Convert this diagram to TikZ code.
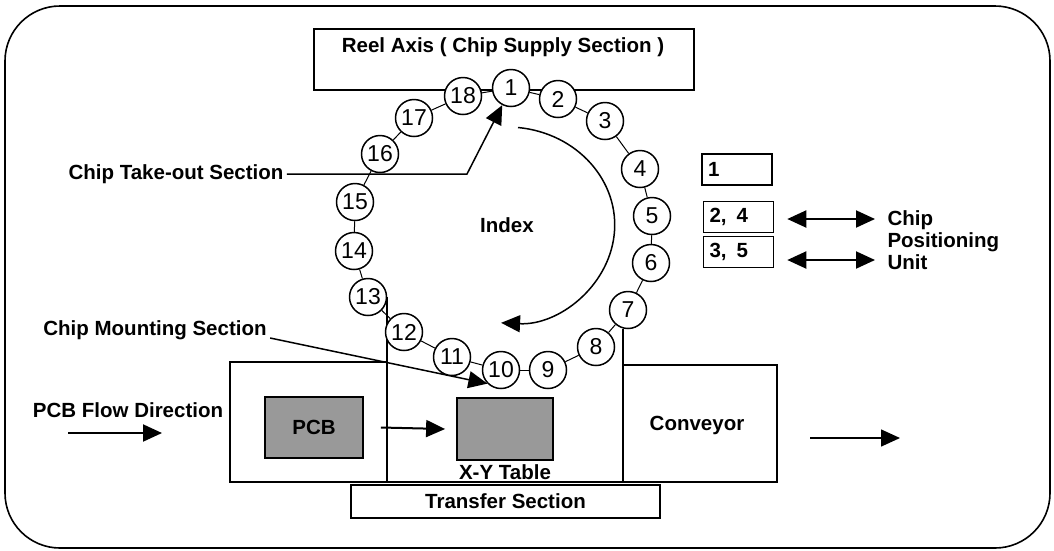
\documentclass[tikz,border=0pt]{standalone}
\usepackage{fontspec}
\setmainfont{Liberation Sans}
\usetikzlibrary{positioning,arrows.meta,backgrounds}

\tikzset{
  box/.style={draw, line width=1.6pt, inner sep=0pt},
  chip/.style={circle, draw, fill=white, line width=1.5pt, minimum size=37pt,
    inner sep=0pt, font=\fontsize{23}{23}\selectfont},
  legend/.style={draw, line width=1.6pt, minimum height=31pt, text width=58pt,
    inner xsep=6pt, align=left},
  shade/.style={draw, line width=1.8pt, fill=black!40, inner sep=0pt},
  link/.style={line width=1pt},
  arrow/.style={line width=2pt, -{Triangle[length=19pt,width=17pt]}},
  dblarrow/.style={line width=2pt,
    {Triangle[length=19pt,width=17pt]}-{Triangle[length=19pt,width=17pt]}},
}

\begin{document}
\begin{tikzpicture}[x=1pt, y=-1pt, font=\bfseries\fontsize{20.5}{22}\selectfont]
  \useasboundingbox (0,0) rectangle (1054,550);

  % Outer frame
  \draw[line width=1.6pt, rounded corners=55pt] (5,6) rectangle (1050,548);

  % Reel axis (chip supply section)
  \node[box, minimum width=380pt, minimum height=61pt, anchor=north west] (reel) at (313,28) {};
  \node (reeltext) at (503,47) {Reel Axis ( Chip Supply Section )};

  % Index ring of chip positions
  \foreach \n/\x/\y in {
    1/511/88,  2/558/99,  3/605/121, 4/640/169, 5/652/216, 6/651/263,
    7/628/310, 8/596/347, 9/548/370, 10/501/370, 11/452/357, 12/404/332,
    13/368/297, 14/354/251, 15/355/202, 16/380/154, 17/414/118, 18/463/96}
    \node[chip] (c\n) at (\x,\y) {\n};

  \begin{scope}[on background layer]
    \foreach \a/\b in {1/2,2/3,3/4,4/5,5/6,6/7,7/8,8/9,9/10,10/11,11/12,12/13,
      13/14,14/15,15/16,16/17,17/18,18/1}
      \draw[link] (c\a) -- (c\b);
  \end{scope}

  % Index rotation
  \node (index) at (507,225) {Index};
  \coordinate (idxstart) at (518,127.5);
  \draw[arrow, line width=1.5pt] (idxstart) arc[start angle=-84, end angle=93, x radius=108, y radius=98];

  % Chip take-out section
  \node (takeout) at (176,174) {Chip Take-out Section};
  \coordinate (bend) at (467,174);
  \begin{scope}[on background layer]
    \draw[arrow, line width=1.5pt] (takeout.east) -- (bend) -- (c1);
  \end{scope}

  % Chip mounting section
  \node (mount) at (155,330) {Chip Mounting Section};
  \begin{scope}[on background layer]
    \draw[arrow, line width=1.5pt] ([yshift=-8pt]mount.east) -- (c10.south west);
  \end{scope}

  % Transfer frame, PCB feeder and conveyor
  \begin{scope}[on background layer]
    \draw[line width=1.6pt] (230,362) rectangle (c13.east |- 0,482);
    \draw[line width=1.6pt] (c7.255 |- 0,365) rectangle (777,482);
    \draw[line width=1.6pt] (c13.east) -- (c13.east |- 0,482) -- (c7.255 |- 0,482) -- (c7.255);
  \end{scope}
  \node[box, minimum width=309pt, minimum height=33pt] (transfer) at (505.5,501.5) {Transfer Section};

  \node[shade, minimum width=98pt, minimum height=61pt] (pcb) at (314,427.5) {PCB};
  \node[shade, minimum width=96pt, minimum height=62pt] (xytab) at (505,429) {};
  \node (xylabel) at (505,472) {X-Y Table};
  \draw[arrow] ([xshift=17pt]pcb.east) -- ([xshift=-11pt]xytab.west);

  \node (conveyor) at (697,425) {Conveyor};

  % PCB flow
  \node (flow) at (128,410) {PCB Flow Direction};
  \coordinate (flowa) at (68,433);
  \coordinate (flowb) at (162,433);
  \draw[arrow] (flowa) -- (flowb);
  \coordinate (outa) at (810,438);
  \coordinate (outb) at (900,438);
  \draw[arrow, line width=1.5pt] (outa) -- (outb);

  % Chip positioning unit legend
  \node[legend] (box1) at (737,169.5) {1};
  \node[legend] (box24) at (738.5,217) {2,\hspace{10pt}4};
  \node[legend] (box35) at (738.5,252) {3,\hspace{10pt}5};
  \node[anchor=west, align=left, font=\bfseries\fontsize{20.5}{22}\selectfont] (unit) at (884,240)
    {Chip\\Positioning\\Unit};
  \coordinate (r24) at (875,219);
  \coordinate (r35) at (875,260);
  \draw[dblarrow] ([xshift=13pt]box24.east |- r24) -- (r24);
  \draw[dblarrow] ([xshift=13pt]box35.east |- r35) -- (r35);

\end{tikzpicture}
\end{document}
